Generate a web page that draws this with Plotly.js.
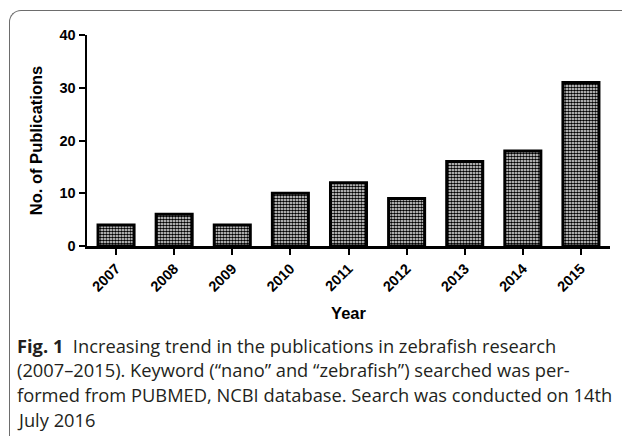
<!DOCTYPE html>
<html>
<head>
<meta charset="utf-8">
<script src="https://cdn.plot.ly/plotly-3.0.1.min.js"></script>
<style>
html,body{margin:0;padding:0;background:#fff;}
#wrap{position:relative;width:622px;height:436px;overflow:hidden;}
#frame{position:absolute;left:9px;top:10px;width:640px;height:460px;border-top:1.5px solid #6d6d6d;border-left:1.5px solid #6d6d6d;border-top-left-radius:12px;}
#chart{position:absolute;left:0;top:0;width:622px;height:436px;}
</style>
</head>
<body>
<div id="wrap"><div id="frame"></div><div id="chart"></div></div>
<script>
const years = ['2007','2008','2009','2010','2011','2012','2013','2014','2015'];
const publications = [4, 6, 4, 10, 12, 9, 16, 18, 31];
const yTicks = [0, 10, 20, 30, 40];
const xTitle = 'Year';
const yTitle = 'No. of Publications';
const captionLines = [
  '<b>Fig. 1</b>  Increasing trend in the publications in zebrafish research',
  '(2007–2015). Keyword (“nano” and “zebrafish”) searched was per-',
  'formed from PUBMED, NCBI database. Search was conducted on 14th',
  'July 2016'
];

const L = 87, R = 12, T = 35, B = 190;
const plotW = 622 - L - R, plotH = 436 - T - B;
const px = x => (x - L) / plotW;
const py = y => (436 - B - y) / plotH;

const bold = {family: 'Liberation Sans, Arial, sans-serif', size: 14.5, color: '#000', weight: 'bold'};

const trace = {
  type: 'bar',
  x: years,
  y: publications,
  width: 0.62,
  marker: {
    color: '#ffffff',
    line: {color: '#000', width: 3},
    pattern: {shape: '.', fgcolor: '#000', bgcolor: '#fff', size: 3, solidity: 0.65}
  },
  hoverinfo: 'skip'
};

const annotations = captionLines.map((t, i) => ({
  text: t, xref: 'paper', yref: 'paper',
  x: px(15), y: py(345 + i * 25),
  xanchor: 'left', yanchor: 'middle', showarrow: false, align: 'left',
  font: {family: 'Open Sans, sans-serif', size: 18.3, color: '#231f20'}
}));

const layout = {
  width: 622, height: 436,
  margin: {l: L, r: R, t: T, b: B},
  paper_bgcolor: 'rgba(0,0,0,0)',
  plot_bgcolor: 'rgba(0,0,0,0)',
  showlegend: false,
  xaxis: {
    type: 'category',
    range: [-0.5, 8.5],
    showline: true, linecolor: '#000', linewidth: 2.5,
    ticks: 'outside', ticklen: 6, tickwidth: 2, tickcolor: '#000',
    tickangle: -45, tickfont: bold,
    showgrid: false, zeroline: false,
    title: {text: xTitle, font: Object.assign({}, bold, {size: 16.5}), standoff: 14}
  },
  yaxis: {
    range: [0, 40],
    tickvals: yTicks,
    showline: true, linecolor: '#000', linewidth: 2.5,
    ticks: 'outside', ticklen: 6, tickwidth: 2, tickcolor: '#000',
    tickfont: bold,
    showgrid: false, zeroline: false,
    title: {text: yTitle, font: Object.assign({}, bold, {size: 16.5}), standoff: 13}
  },
  annotations: annotations
};

Plotly.newPlot('chart', [trace], layout, {staticPlot: true, displayModeBar: false});
</script>
</body>
</html>
